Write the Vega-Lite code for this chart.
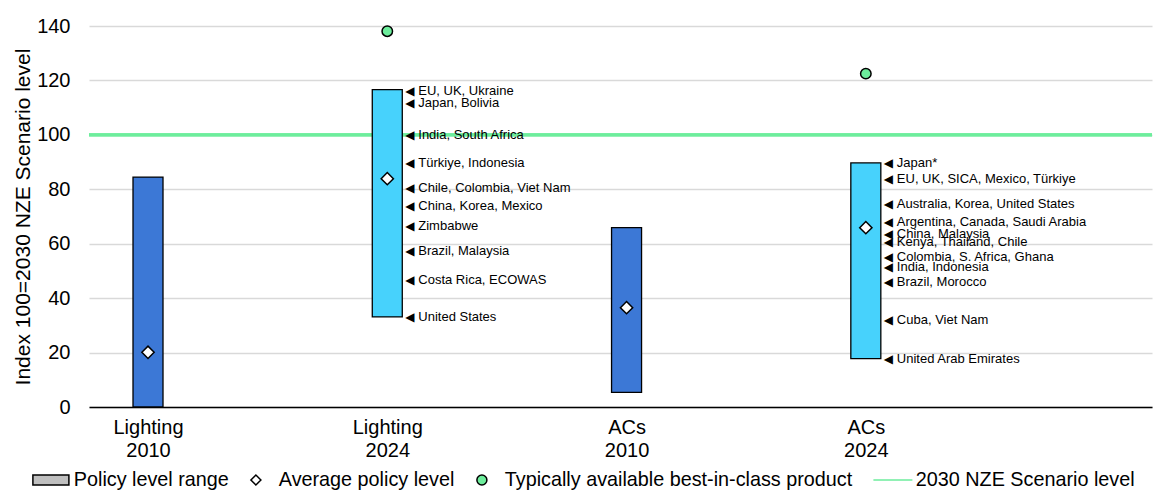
{
  "$schema": "https://vega.github.io/schema/vega-lite/v6.json",
  "width": 1063,
  "height": 381,
  "autosize": {"type": "none"},
  "padding": {"left": 89, "top": 26, "right": 2, "bottom": 84},
  "background": "white",
  "config": {"font": "Liberation Sans", "view": {"stroke": null}},
  "datasets": {
    "bars": [
      {"idx": 1, "cat": "Lighting 2010", "period": "2010", "low": 0, "high": 84.5},
      {"idx": 2, "cat": "Lighting 2024", "period": "2024", "low": 33.1, "high": 116.6},
      {"idx": 3, "cat": "ACs 2010", "period": "2010", "low": 5.4, "high": 65.9},
      {"idx": 4, "cat": "ACs 2024", "period": "2024", "low": 17.8, "high": 89.7}
    ],
    "points": [
      {"idx": 1, "value": 20.1, "type": "Average policy level"},
      {"idx": 2, "value": 83.9, "type": "Average policy level"},
      {"idx": 3, "value": 36.5, "type": "Average policy level"},
      {"idx": 4, "value": 65.9, "type": "Average policy level"},
      {"idx": 2, "value": 138.1, "type": "Typically available best-in-class product"},
      {"idx": 4, "value": 122.5, "type": "Typically available best-in-class product"}
    ],
    "notes": [
      {"idx": 2, "value": 116.1, "label": "EU, UK, Ukraine"},
      {"idx": 2, "value": 111.7, "label": "Japan, Bolivia"},
      {"idx": 2, "value": 99.9, "label": "India, South Africa"},
      {"idx": 2, "value": 89.7, "label": "Türkiye, Indonesia"},
      {"idx": 2, "value": 80.6, "label": "Chile, Colombia, Viet Nam"},
      {"idx": 2, "value": 74.0, "label": "China, Korea, Mexico"},
      {"idx": 2, "value": 66.4, "label": "Zimbabwe"},
      {"idx": 2, "value": 57.3, "label": "Brazil, Malaysia"},
      {"idx": 2, "value": 46.6, "label": "Costa Rica, ECOWAS"},
      {"idx": 2, "value": 33.1, "label": "United States"},
      {"idx": 4, "value": 89.7, "label": "Japan*"},
      {"idx": 4, "value": 83.9, "label": "EU, UK, SICA, Mexico, Türkiye"},
      {"idx": 4, "value": 74.5, "label": "Australia, Korea, United States"},
      {"idx": 4, "value": 68.0, "label": "Argentina, Canada, Saudi Arabia"},
      {"idx": 4, "value": 63.7, "label": "China, Malaysia"},
      {"idx": 4, "value": 60.6, "label": "Kenya, Thailand, Chile"},
      {"idx": 4, "value": 55.1, "label": "Colombia, S. Africa, Ghana"},
      {"idx": 4, "value": 51.4, "label": "India, Indonesia"},
      {"idx": 4, "value": 45.9, "label": "Brazil, Morocco"},
      {"idx": 4, "value": 31.9, "label": "Cuba, Viet Nam"},
      {"idx": 4, "value": 17.8, "label": "United Arab Emirates"}
    ]
  },
  "layer": [
    {
      "data": {"name": "bars"},
      "mark": {"type": "rule", "color": "#6ded9c", "strokeWidth": 2.8},
      "encoding": {
        "y": {
          "datum": 100,
          "type": "quantitative",
          "scale": {"domain": [0, 140], "nice": false, "zero": true},
          "axis": {
            "values": [0, 20, 40, 60, 80, 100, 120, 140],
            "grid": true,
            "gridColor": "#d9d9d9",
            "gridWidth": 1.3,
            "domain": false,
            "ticks": false,
            "tickSize": 0,
            "labelPadding": 19,
            "labelFontSize": 20,
            "labelColor": "black",
            "labelFont": "Liberation Sans",
            "title": "Index 100=2030 NZE Scenario level",
            "titleFontSize": 21,
            "titleFontWeight": "normal",
            "titleColor": "black",
            "titleFont": "Liberation Sans",
            "titlePadding": 3
          }
        }
      }
    },
    {
      "data": {"name": "bars"},
      "mark": {"type": "bar", "width": 30, "stroke": "black", "strokeWidth": 1.3},
      "encoding": {
        "x": {
          "field": "idx",
          "type": "quantitative",
          "scale": {"domain": [0.7534, 5.196], "nice": false, "zero": false, "padding": 0},
          "axis": {
            "title": null,
            "values": [1, 2, 3, 4],
            "labelAngle": 0,
            "labelExpr": "datum.value == 1 ? ['Lighting', '2010'] : datum.value == 2 ? ['Lighting', '2024'] : datum.value == 3 ? ['ACs', '2010'] : ['ACs', '2024']",
            "labelFontSize": 20,
            "labelFont": "Liberation Sans",
            "labelColor": "black",
            "labelLineHeight": 23.4,
            "labelPadding": 10,
            "labelFlush": false,
            "labelOverlap": false,
            "ticks": false,
            "tickSize": 0,
            "domain": true,
            "domainColor": "black",
            "domainWidth": 1.6,
            "grid": false
          }
        },
        "y": {"field": "high", "type": "quantitative"},
        "y2": {"field": "low"},
        "fill": {"condition": {"test": "datum.period === '2010'", "value": "#3c78d6"}, "value": "#47d2fc"}
      }
    },
    {
      "data": {"name": "points"},
      "mark": {"type": "point", "filled": true, "opacity": 1, "strokeWidth": 1.5},
      "encoding": {
        "x": {"field": "idx", "type": "quantitative"},
        "y": {"field": "value", "type": "quantitative"},
        "size": {"condition": {"test": "datum.type === 'Average policy level'", "value": 150}, "value": 110},
        "shape": {
          "field": "type",
          "type": "nominal",
          "scale": {
            "domain": ["Policy level range", "Average policy level", "Typically available best-in-class product", "2030 NZE Scenario level"],
            "range": ["M-3.6,-1H3.6V1H-3.6Z", "diamond", "circle", "M-3.9,0H3.9"]
          },
          "legend": {
            "orient": "none",
            "legendX": -48,
            "legendY": 444,
            "direction": "horizontal",
            "title": null,
            "symbolSize": 100,
            "symbolStrokeWidth": 1.5,
            "labelFontSize": 19.8,
            "labelFont": "Liberation Sans",
            "labelColor": "black",
            "labelOffset": 13,
            "columnPadding": 17,
            "labelLimit": 0,
            "encode": {
              "symbols": {"update": {"strokeWidth": {"signal": "datum.value === '2030 NZE Scenario level' ? 3 : 1.5"}}}
            }
          }
        },
        "fill": {
          "field": "type",
          "type": "nominal",
          "scale": {
            "domain": ["Policy level range", "Average policy level", "Typically available best-in-class product", "2030 NZE Scenario level"],
            "range": ["#bfbfbf", "white", "#6ded9c", "transparent"]
          }
        },
        "stroke": {
          "field": "type",
          "type": "nominal",
          "scale": {
            "domain": ["Policy level range", "Average policy level", "Typically available best-in-class product", "2030 NZE Scenario level"],
            "range": ["black", "black", "black", "#6ded9c"]
          }
        }
      }
    },
    {
      "data": {"name": "notes"},
      "mark": {"type": "text", "align": "left", "baseline": "middle", "dx": 18, "font": "DejaVu Sans", "fontSize": 12, "color": "black"},
      "encoding": {
        "x": {"field": "idx", "type": "quantitative"},
        "y": {"field": "value", "type": "quantitative"},
        "text": {"value": "◀"}
      }
    },
    {
      "data": {"name": "notes"},
      "mark": {"type": "text", "align": "left", "baseline": "middle", "dx": 31, "font": "Liberation Sans", "fontSize": 13, "color": "black"},
      "encoding": {
        "x": {"field": "idx", "type": "quantitative"},
        "y": {"field": "value", "type": "quantitative"},
        "text": {"field": "label"}
      }
    }
  ]
}
